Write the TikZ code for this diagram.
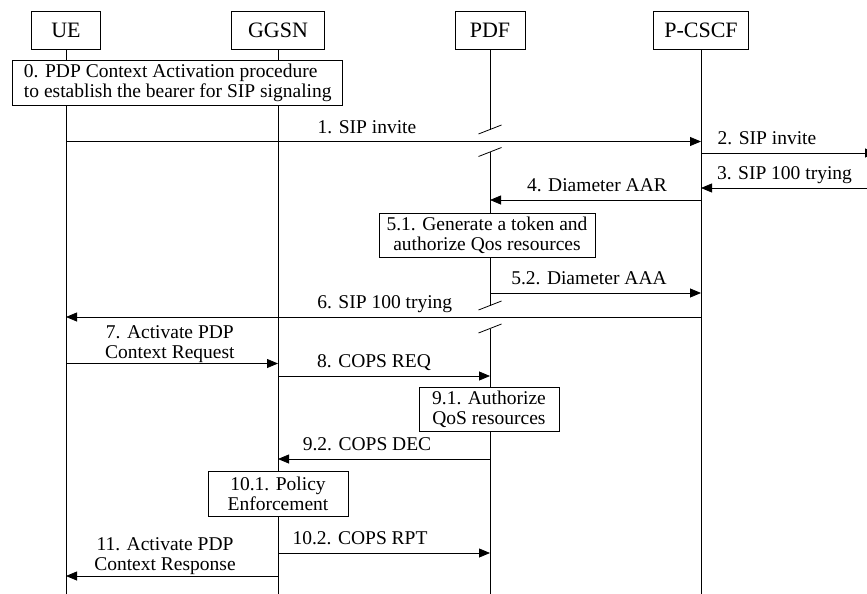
\documentclass[tikz,border=0pt]{standalone}
\usepackage{fontspec}
\setmainfont{Liberation Serif}
\usepackage{tikz}
\usetikzlibrary{arrows.meta}
\newcommand{\msgfont}{\fontsize{19.5}{20}\selectfont}
\newcommand{\headfont}{\fontsize{22}{24}\selectfont}

\begin{document}
\begin{tikzpicture}[
  x=1pt, y=-1pt,
  line width=0.8pt,
  entity/.style={draw, fill=white, font=\headfont, inner sep=0pt, minimum height=38pt},
  life/.style={draw},
  act/.style={draw, fill=white, font=\msgfont, align=center, inner sep=0pt},
  msg/.style={-{Triangle[length=11pt, width=9pt]}},
  lab/.style={font=\msgfont, inner sep=0pt, anchor=base, yshift=8.5pt},
  lab2/.style={font=\msgfont, inner sep=0pt, align=center, anchor=south, yshift=0.5pt},
  brk/.style={line width=0.8pt}
]
\useasboundingbox (0,0) rectangle (867,594);
% ----- entities and lifelines -----
\foreach \n/\x/\t/\w in {ue/66/UE/69, ggsn/278/GGSN/93, pdf/490/PDF/70, pcscf/701/P-CSCF/95}
  {\node[entity, minimum width=\w pt] (\n) at (\x,30) {\t};}
\foreach \n in {ue,ggsn,pcscf}{\draw[life] (\n.south) -- (\n |- 0,596);}
% ----- PDF lifeline, broken twice -----
\coordinate (b1) at (pdf |- 0,129.5);
\coordinate (b2) at (pdf |- 0,152);
\coordinate (b3) at (pdf |- 0,305.5);
\coordinate (b4) at (pdf |- 0,328.5);
\draw[life] (pdf.south) -- (b1);
\draw[life] (b2) -- (b3);
\draw[life] (b4) -- (pdf |- 0,596);
\foreach \b in {b1,b2,b3,b4}{\draw[brk] (\b) ++(-11.5,4.5) -- ++(23,-9);}
% ----- off-page ends on the right -----
\coordinate (edge2) at (876,153);
\coordinate (edge3) at (867,188);
% ----- procedure boxes -----
\node[act, align=left, minimum width=330pt, minimum height=45pt] (a0) at (177.8,82.5)
  {0. PDP Context Activation procedure\\to establish the bearer for SIP signaling};
\node[act, minimum width=216pt, minimum height=44pt] (a51) at (487,235)
  {5.1. Generate a token and\\authorize Qos resources};
\node[act, minimum width=140pt, minimum height=44pt] (a91) at (489,409)
  {9.1. Authorize\\QoS resources};
\node[act, minimum width=140pt, minimum height=45pt] (a101) at (278,493.5)
  {10.1. Policy\\Enforcement};
% ----- one-line messages -----
\foreach \a/\b/\y/\p/\t in {
    ue/pcscf/141.5/.474/1. SIP invite,
    pcscf/edge2/153/.377/2. SIP invite,
    edge3/pcscf/188/.497/3. SIP 100 trying,
    pcscf/pdf/200/.493/4. Diameter AAR,
    pdf/pcscf/293/.469/5.2. Diameter AAA,
    pcscf/ue/317/.498/6. SIP 100 trying,
    ggsn/pdf/376/.453/8. COPS REQ,
    pdf/ggsn/459/.58/9.2. COPS DEC,
    ggsn/pdf/553/.387/10.2. COPS RPT}
  {\draw[msg] (\a |- 0,\y) -- node[lab, pos=\p]{\t} (\b |- 0,\y);}
% ----- two-line messages -----
\draw[msg] (ue |- 0,363.5) -- node[lab2, pos=.49]{7. Activate PDP\\Context Request} (ggsn |- 0,363.5);
\draw[msg] (ggsn |- 0,576) -- node[lab2, pos=.533]{11. Activate PDP\\Context Response} (ue |- 0,576);
\end{tikzpicture}
\end{document}
